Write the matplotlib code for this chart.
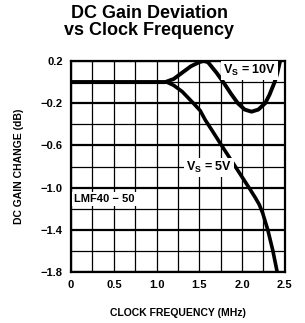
import matplotlib
matplotlib.use("Agg")
import matplotlib.pyplot as plt

# === DATOS ===
freq_10v = [0, 1.1, 1.2, 1.3, 1.4, 1.5, 1.55, 1.6, 1.7, 1.78, 1.87, 1.95,
            2.03, 2.11, 2.19, 2.27, 2.32, 2.35, 2.38, 2.41, 2.45]
gain_10v = [0, 0, 0.03, 0.09, 0.15, 0.19, 0.2, 0.19, 0.09, 0.0, -0.11, -0.2,
            -0.26, -0.28, -0.26, -0.2, -0.12, -0.06, 0.0, 0.08, 0.22]

freq_5v = [0, 1.12, 1.2, 1.3, 1.43, 1.51, 1.57, 1.65, 1.76, 1.84, 1.92, 2.0,
           2.08, 2.15, 2.2, 2.24, 2.27, 2.3, 2.36, 2.41]
gain_5v = [0, 0, -0.03, -0.09, -0.2, -0.27, -0.36, -0.46, -0.6, -0.7, -0.8,
           -0.9, -1.0, -1.09, -1.16, -1.24, -1.32, -1.4, -1.6, -1.8]

x_ticks = [0, 0.5, 1.0, 1.5, 2.0, 2.5]
x_labels = ["0", "0.5", "1.0", "1.5", "2.0", "2.5"]
y_ticks = [0.2, -0.2, -0.6, -1.0, -1.4, -1.8]
y_labels = ["0.2", "\u22120.2", "\u22120.6", "\u22121.0", "\u22121.4", "\u22121.8"]

# === FIGURA ===
plt.rcParams["font.family"] = ["Liberation Sans", "DejaVu Sans"]
plt.rcParams["mathtext.fontset"] = "custom"
plt.rcParams["mathtext.rm"] = "Liberation Sans:bold"

fig = plt.figure(figsize=(3.05, 3.23), dpi=100)
ax = fig.add_axes([0.233, 0.158, 0.701, 0.653])

# rejilla
for i in range(11):
    ax.axvline(i * 0.25, color="black", lw=0.9, zorder=1)
for i in range(11):
    y = 0.2 - i * 0.2
    ax.axhline(y, color="black", lw=1.6 if i % 2 == 0 else 0.9, zorder=1)

ax.plot(freq_10v, gain_10v, color="black", lw=2.8, solid_capstyle="butt", zorder=3)
ax.plot(freq_5v, gain_5v, color="black", lw=2.6, solid_capstyle="butt", zorder=3)

ax.set_xlim(0, 2.5)
ax.set_ylim(-1.8, 0.2)
ax.set_xticks(x_ticks)
ax.set_xticklabels(x_labels)
ax.set_yticks(y_ticks)
ax.set_yticklabels(y_labels)
ax.tick_params(length=0, pad=6, labelsize=8)
for lbl in ax.get_xticklabels() + ax.get_yticklabels():
    lbl.set_fontweight("bold")
for s in ax.spines.values():
    s.set_linewidth(1.6)

ax.set_xlabel("CLOCK FREQUENCY (MHz)", fontsize=7.5, fontweight="bold", labelpad=13)
ax.set_ylabel("DC GAIN CHANGE (dB)", fontsize=7.5, fontweight="bold", labelpad=12)

caja = dict(facecolor="white", edgecolor="none", pad=1.5)
ax.text(2.09, 0.11, "V$_\\mathregular{S}$ = 10V", fontsize=9, fontweight="bold",
        ha="center", va="center", bbox=caja, zorder=4)
ax.text(1.61, -0.81, "V$_\\mathregular{S}$ = 5V", fontsize=9, fontweight="bold",
        ha="center", va="center", bbox=caja, zorder=4)
ax.text(0.04, -1.11, "LMF40 \u2212 50", fontsize=8, fontweight="bold",
        ha="left", va="center", bbox=caja, zorder=4)

fig.text(0.49, 0.985, "DC Gain Deviation\nvs Clock Frequency", fontsize=13,
         fontweight="bold", ha="center", va="top", linespacing=1.05)

fig.savefig("out.png", dpi=100)
